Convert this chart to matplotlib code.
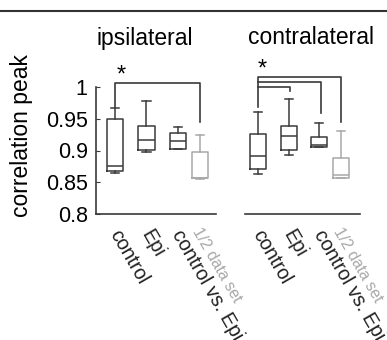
import matplotlib
matplotlib.use("Agg")
import matplotlib.pyplot as plt
from matplotlib.lines import Line2D

plt.rcParams['font.family'] = ['Liberation Sans', 'DejaVu Sans']

# box statistics: control, Epi, control vs. Epi, 1/2 data set
labels = ['control', 'Epi', 'control vs. Epi']
half_label = '1/2 data set'
positions = [1, 2, 3, 3.7]

ipsi_whishi = [0.967, 0.978, 0.937, 0.924]
ipsi_q3 = [0.950, 0.939, 0.927, 0.898]
ipsi_med = [0.876, 0.917, 0.915, 0.857]
ipsi_q1 = [0.867, 0.901, 0.902, 0.856]
ipsi_whislo = [0.865, 0.897, 0.902, 0.855]

contra_whishi = [0.961, 0.981, 0.943, 0.930]
contra_q3 = [0.926, 0.939, 0.921, 0.888]
contra_med = [0.892, 0.923, 0.909, 0.862]
contra_q1 = [0.871, 0.901, 0.905, 0.857]
contra_whislo = [0.863, 0.893, 0.905, 0.856]

yticks = [0.8, 0.85, 0.9, 0.95, 1]
ytick_labels = ['0.8', '0.85', '0.9', '0.95', '1']

dark = '#3a3a3a'
gray = '#a8a8a8'

fig = plt.figure(figsize=(3.87, 3.4), dpi=100)
ax1 = fig.add_axes([96/387, 1-214/340, 120/387, 152.4/340])
ax2 = fig.add_axes([245/387, 1-214/340, 115/387, 152.4/340])


def draw_boxes(ax, whishi, q3, med, q1, whislo):
    for i in range(4):
        st = [dict(med=med[i], q1=q1[i], q3=q3[i], whislo=whislo[i], whishi=whishi[i])]
        c = gray if i == 3 else dark
        ax.bxp(st, positions=[positions[i]], widths=0.52, showfliers=False,
               boxprops=dict(color=c, lw=1.1), medianprops=dict(color=c, lw=1.1),
               whiskerprops=dict(color=c, lw=1.1), capprops=dict(color=c, lw=1.1),
               capwidths=0.26)
    ax.set_ylim(0.8, 1.04)
    ax.set_xticks([])
    for s in ['top', 'right']:
        ax.spines[s].set_visible(False)
    ax.spines['bottom'].set_color(dark)
    ax.spines['bottom'].set_linewidth(1.2)
    for i, lab in enumerate(labels):
        ax.annotate(lab, (positions[i], 0.8), xytext=(5, -9), textcoords='offset points',
                    rotation=-60, rotation_mode='anchor', ha='left', va='top',
                    fontsize=14.2, color='#222222', annotation_clip=False)
    ax.annotate(half_label, (positions[3], 0.8), xytext=(2, -8), textcoords='offset points',
                rotation=-60, rotation_mode='anchor', ha='left', va='top',
                fontsize=11.5, color=gray, annotation_clip=False)


draw_boxes(ax1, ipsi_whishi, ipsi_q3, ipsi_med, ipsi_q1, ipsi_whislo)
draw_boxes(ax2, contra_whishi, contra_q3, contra_med, contra_q1, contra_whislo)

ax1.set_xlim(0.397, 4.21)
ax2.set_xlim(0.58, 4.32)

ax1.spines['left'].set_bounds(0.8, 1)
ax1.spines['left'].set_color(dark)
ax1.spines['left'].set_linewidth(1.2)
ax1.set_yticks(yticks)
ax1.set_yticklabels(ytick_labels)
ax1.tick_params(axis='y', direction='in', length=3, labelsize=15.5, pad=6, color=dark)
ax2.spines['left'].set_visible(False)
ax2.set_yticks([])

# significance brackets
bk = dict(color=dark, lw=1.2, clip_on=False)
ax1.plot([1, 1, 3.7, 3.7], [0.9685, 1.007, 1.007, 0.9454], **bk)
ax1.text(1.2, 1.018, '*', ha='center', va='center', fontsize=17)

ax2.plot([1, 1, 3.7, 3.7], [0.9685, 1.0153, 1.0153, 0.9454], **bk)
ax2.plot([1, 3.05, 3.05], [1.0077, 1.0077, 0.959], **bk)
ax2.plot([1, 2.04, 2.04], [1.0006, 1.0006, 0.994], **bk)
ax2.text(1.15, 1.027, '*', ha='center', va='center', fontsize=17)

fig.text(145/387, 1-38/340, 'ipsilateral', ha='center', va='center', fontsize=16.5)
fig.text(311/387, 1-38/340, 'contralateral', ha='center', va='center', fontsize=16.5)
fig.text(22/387, 1-136/340, 'correlation peak', rotation=90, ha='center', va='center',
         fontsize=16.5)

fig.add_artist(Line2D([0, 1], [1-10.7/340, 1-10.7/340], color='#333333', lw=1.5))

fig.savefig('out.png', dpi=100)
